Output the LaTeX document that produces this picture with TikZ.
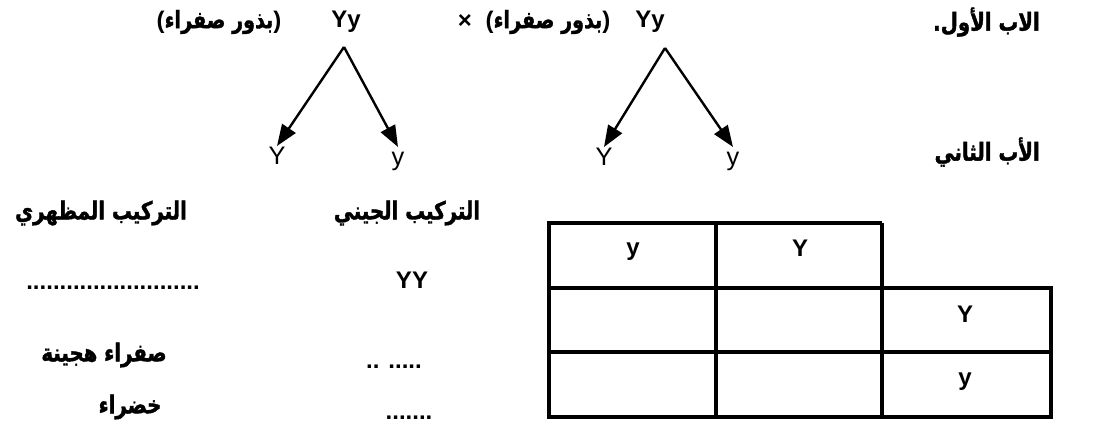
\documentclass[tikz,border=0pt]{standalone}
\usepackage{fontspec}
\setmainfont{Liberation Sans}
\newfontfamily\arabicfont[Script=Arabic,FakeStretch=0.8,BoldFeatures={FakeBold=1.5}]{DejaVu Sans}
\TeXXeTstate=1
\usetikzlibrary{arrows.meta}
\begin{document}
\begin{tikzpicture}[x=0.75pt,y=-0.75pt,
  txt/.style={font=\fontsize{18}{20}\selectfont\bfseries, inner sep=0pt},
  ar/.style={font=\fontsize{18.5}{20}\selectfont\arabicfont\bfseries, inner sep=0pt},
  gam/.style={font=\fontsize{19}{20}\selectfont, inner sep=0pt, anchor=north,
              text height=13.6pt, text depth=4pt},
  arr/.style={line width=1.8pt, -{Triangle[length=16pt,width=12pt]}},
  tab/.style={line width=2.4pt}]
\useasboundingbox (0,0) rectangle (1103,425);
% top row
\node[txt] (p1) at (219,22) {(\mbox{\fontsize{18}{20}\selectfont\arabicfont\beginR بذور صفراء\endR})};
\node[txt] (g1) at (346,22) {Yy};
\node[txt] (x) at (465,22) {×};
\node[txt] (p2) at (548,22) {(\mbox{\fontsize{18}{20}\selectfont\arabicfont\beginR بذور صفراء\endR})};
\node[txt] (g2) at (650,22) {Yy};
\node[ar, anchor=east] (t1) at (1040,22) {\beginR الاب الأول.\endR};
% gametes
\coordinate (a1) at (344,47);
\coordinate (a2) at (665,48);
\node[gam] (y1) at (277,146) {Y};
\node[gam] (y2) at (398,147) {y};
\node[gam] (y3) at (604,147) {Y};
\node[gam] (y4) at (733,147) {y};
\draw[arr] (a1) -- (y1.north);
\draw[arr] (a1) -- (y2.north);
\draw[arr] (a2) -- (y3.north);
\draw[arr] (a2) -- (y4.north);
\node[ar, anchor=east] (t2) at (1040,152) {\beginR الأب الثاني\endR};
% left side
\node[ar] (h1) at (101,213) {\beginR التركيب المظهري\endR};
\node[ar] (h2) at (407,213) {\beginR التركيب الجيني\endR};
\node[txt] (r1) at (412,280) {YY};
\node[txt, anchor=base] (d1) at (113,289) {..........................};
\node[ar] (r2) at (104,355) {\beginR صفراء هجينة\endR};
\node[txt, anchor=base] (d2) at (394,368) {.. .....};
\node[ar] (r3) at (130,407) {\beginR خضراء\endR};
\node[txt, anchor=base] (d3) at (409,419) {.......};
% table
\draw[tab] (882,223) -- (549,223) -- (549,417) -- (1051,417) -- (1051,288) -- (549,288);
\draw[tab] (549,352) -- (1051,352);
\draw[tab] (716,223) -- (716,417);
\draw[tab] (882,223) -- (882,417);
\node[txt] (c1) at (633,252) {y};
\node[txt] (c2) at (800,248) {Y};
\node[txt] (c3) at (965,314) {Y};
\node[txt] (c4) at (965,382) {y};
\end{tikzpicture}
\end{document}
